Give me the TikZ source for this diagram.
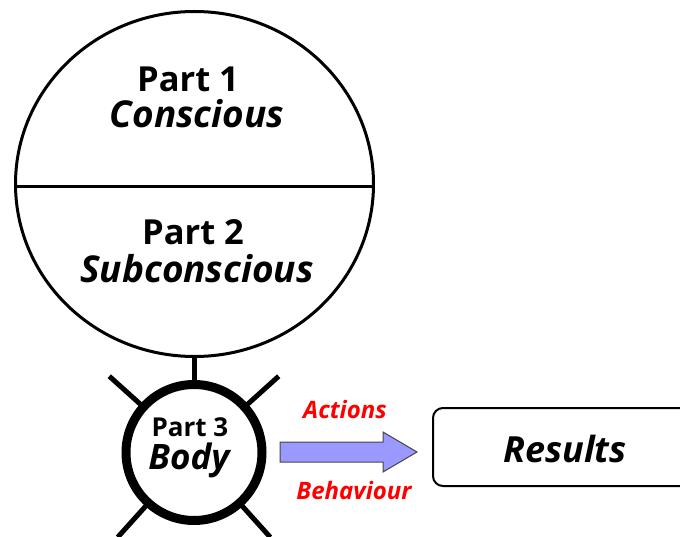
\documentclass[tikz,border=0pt]{standalone}
\usepackage{fontspec}
\setmainfont{Open Sans}
\usetikzlibrary{shapes.geometric,calc}
\definecolor{arrowfill}{RGB}{153,153,255}
\definecolor{labelred}{RGB}{255,0,0}
\definecolor{arrowline}{RGB}{70,70,70}
\tikzset{
  mind/.style={ellipse, draw, line width=3pt, inner sep=0pt, minimum width=358pt, minimum height=345pt},
  divider/.style={line width=3pt},
  bodyc/.style={circle, draw, line width=9pt, inner sep=0pt, minimum size=136pt},
  spoke/.style={line width=5pt},
  stem/.style={line width=5pt},
  resbox/.style={draw, line width=2pt, rounded corners=10pt, minimum width=264pt, minimum height=78pt, inner sep=0pt},
  blockarrow/.style={draw=arrowline, line width=1pt, fill=arrowfill, line join=miter},
  title/.style={anchor=base, inner sep=0pt, font=\bfseries\fontsize{34.5}{34.5}\selectfont},
  sub/.style={anchor=base, inner sep=0pt, font=\bfseries\itshape\fontsize{37}{37}\selectfont},
  redlabel/.style={anchor=base, inner sep=0pt, text=labelred, font=\bfseries\itshape\fontsize{24}{24}\selectfont}
}
\begin{document}
\begin{tikzpicture}[x=1pt,y=-1pt]
\clip (0,0) rectangle (680,537);
% mind
\node[mind] (mind) at (194.5,184) {};
\draw[divider] ($(mind.west)+(0,2.5)$) -- ($(mind.east)+(0,2.5)$);
\node[title] (p1) at (188,92) {Part 1};
\node[sub] (c1) at (197,128) {Conscious};
\node[title] (p2) at (193,245) {Part 2};
\node[sub] (c2) at (197,283) {Subconscious};
% body
\node[bodyc] (body) at (194,452.5) {};
\foreach \a in {222,318,132,48} \draw[spoke] (body.center) ++(\a:68) -- ++(\a:46);
\draw[stem] (body.north) -- (body.north |- mind.south);
\node[anchor=base, inner sep=0pt, font=\bfseries\fontsize{26}{26}\selectfont] (p3) at (190,436) {Part 3};
\node[anchor=base, inner sep=0pt, font=\bfseries\itshape\fontsize{35}{35}\selectfont] (b3) at (189,469) {Body};
% results
\node[resbox] (results) at (565,447) {};
\node[anchor=base, inner sep=0pt, font=\bfseries\itshape\fontsize{36}{36}\selectfont] (rt) at (565,462) {Results};
% arrow
\coordinate (a0) at ($(body.east)+(13.5,-0.5)$);
\coordinate (tip) at ($(results.west |- a0)+(-15,0)$);
\draw[blockarrow] ($(a0)+(0,-10)$) -- ($(tip)+(-34,-10)$) -- ($(tip)+(-34,-20)$) -- (tip) -- ($(tip)+(-34,20)$) -- ($(tip)+(-34,10)$) -- ($(a0)+(0,10)$) -- cycle;
\node[redlabel] (act) at (345,418) {Actions};
\node[redlabel] (beh) at (354,499) {Behaviour};
\end{tikzpicture}
\end{document}
